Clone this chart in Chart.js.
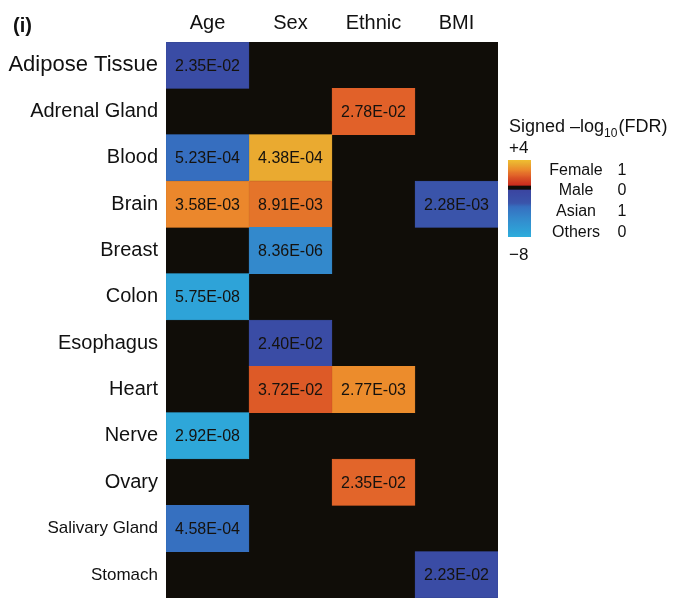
<!DOCTYPE html>
<html>
<head>
<meta charset="utf-8">
<script src="https://cdn.jsdelivr.net/npm/chart.js@4/dist/chart.umd.min.js"></script>
<style>
  html, body { margin: 0; padding: 0; background: #ffffff; }
  #wrap { position: relative; width: 688px; height: 598px; }
</style>
</head>
<body>
<div id="wrap"><canvas id="c"></canvas></div>
<script>
// ---------------- DATA ----------------
const tissues = ['Adipose Tissue', 'Adrenal Gland', 'Blood', 'Brain', 'Breast', 'Colon',
                 'Esophagus', 'Heart', 'Nerve', 'Ovary', 'Salivary Gland', 'Stomach'];
const columns = ['Age', 'Sex', 'Ethnic', 'BMI'];

// FDR values shown in the cells (null = empty/black cell)
const fdrAge    = [2.35e-2, null, 5.23e-4, 3.58e-3, null, 5.75e-8, null, null, 2.92e-8, null, 4.58e-4, null];
const fdrSex    = [null, null, 4.38e-4, 8.91e-3, 8.36e-6, null, 2.40e-2, 3.72e-2, null, null, null, null];
const fdrEthnic = [null, 2.78e-2, null, null, null, null, null, 2.77e-3, null, 2.35e-2, null, null];
const fdrBMI    = [null, null, null, 2.28e-3, null, null, null, null, null, null, null, 2.23e-2];

// direction of effect (+1 = warm / positive, -1 = cool / negative)
const dirAge    = [-1, 0, -1, 1, 0, -1, 0, 0, -1, 0, -1, 0];
const dirSex    = [0, 0, 1, 1, -1, 0, -1, 1, 0, 0, 0, 0];
const dirEthnic = [0, 1, 0, 0, 0, 0, 0, 1, 0, 1, 0, 0];
const dirBMI    = [0, 0, 0, -1, 0, 0, 0, 0, 0, 0, 0, -1];

// colour-bar range and legend entries
const scaleMax = 4, scaleMin = -8;
const legendNames = ['Female', 'Male', 'Asian', 'Others'];
const legendCodes = ['1', '0', '1', '0'];

// ---------------- STYLE ----------------
const FONT = "'Liberation Sans', Arial, Helvetica, sans-serif";
const labelSizes = [22, 20, 20, 20, 20, 20, 20, 20, 20, 20, 17, 17];
const posStops = [[0, [200, 40, 30]], [1.4, [220, 88, 38]], [1.6, [226, 100, 42]], [2.05, [228, 116, 42]],
                  [2.5, [236, 138, 44]], [3.4, [234, 172, 48]], [4, [240, 190, 48]]];
const negStops = [[0, [59, 64, 158]], [2.7, [58, 84, 170]], [3.3, [54, 111, 192]], [5.1, [51, 137, 204]],
                  [7.3, [46, 164, 216]], [8, [46, 174, 220]]];

function interp(stops, v) {
  if (v <= stops[0][0]) return stops[0][1];
  for (let i = 1; i < stops.length; i++) {
    if (v <= stops[i][0]) {
      const [a, ca] = stops[i - 1], [b, cb] = stops[i];
      const t = (v - a) / (b - a);
      return ca.map((c, k) => Math.round(c + (cb[k] - c) * t));
    }
  }
  return stops[stops.length - 1][1];
}
function colorFor(signed) {
  const c = signed >= 0 ? interp(posStops, signed) : interp(negStops, -signed);
  return `rgb(${c[0]},${c[1]},${c[2]})`;
}

const fdrCols = [fdrAge, fdrSex, fdrEthnic, fdrBMI];
const dirCols = [dirAge, dirSex, dirEthnic, dirBMI];

const datasets = columns.map((name, ci) => {
  const fdr = fdrCols[ci], dir = dirCols[ci];
  const cols = fdr.map((v, ri) => v === null ? 'rgba(0,0,0,0)' : colorFor(dir[ri] * -Math.log10(v)));
  return {
    label: name,
    data: fdr.map(v => v === null ? null : [ci, ci + 1]),
    backgroundColor: cols,
    borderColor: cols,
    borderWidth: 0.5,
    borderSkipped: false,
    fdrText: fdr.map(v => v === null ? '' : v.toExponential(2).toUpperCase().replace(/E([+-])(\d)$/, 'E$10$2')),
    barPercentage: 1,
    categoryPercentage: 1,
    grouped: false
  };
});

const bgPlugin = {
  id: 'bg',
  beforeDatasetsDraw(chart) {
    const { ctx, chartArea: a } = chart;
    ctx.save();
    ctx.fillStyle = '#100d08';
    ctx.fillRect(a.left, a.top, a.right - a.left, a.bottom - a.top);
    ctx.restore();
  }
};

const cellText = {
  id: 'cellText',
  afterDatasetsDraw(chart) {
    const ctx = chart.ctx;
    ctx.save();
    ctx.font = `16px ${FONT}`;
    ctx.fillStyle = '#15120e';
    ctx.textAlign = 'center';
    ctx.textBaseline = 'middle';
    chart.data.datasets.forEach((ds, di) => {
      const meta = chart.getDatasetMeta(di);
      meta.data.forEach((el, i) => {
        if (!ds.fdrText[i]) return;
        const p = el.getProps(['x', 'y', 'base'], true);
        ctx.fillText(ds.fdrText[i], (p.x + p.base) / 2, p.y + 1);
      });
    });
    ctx.restore();
  }
};

const extras = {
  id: 'extras',
  afterDraw(chart) {
    const ctx = chart.ctx;
    ctx.save();
    ctx.fillStyle = '#111';
    ctx.textBaseline = 'alphabetic';
    // panel tag
    ctx.font = `bold 20px ${FONT}`;
    ctx.textAlign = 'left';
    ctx.fillText('(i)', 13, 32);

    // legend title
    const x0 = 509;
    ctx.font = `18px ${FONT}`;
    let t = 'Signed \u2013log';
    ctx.fillText(t, x0, 132);
    let w = ctx.measureText(t).width;
    ctx.font = `12px ${FONT}`;
    ctx.fillText('10', x0 + w, 137);
    w += ctx.measureText('10').width;
    ctx.font = `18px ${FONT}`;
    ctx.fillText('(FDR)', x0 + w + 1, 132);

    // range labels
    ctx.font = `17px ${FONT}`;
    ctx.textBaseline = 'middle';
    ctx.fillText('+' + scaleMax, x0, 148);
    ctx.fillText('\u2212' + Math.abs(scaleMin), x0, 255);

    // colour bar
    const bx = 508, bw = 23, by = 160, bh = 77;
    const span = scaleMax - scaleMin;
    const g = ctx.createLinearGradient(0, by, 0, by + bh);
    for (let k = 0; k <= 48; k++) {
      const v = scaleMax - span * k / 48;
      g.addColorStop(k / 48, colorFor(v));
    }
    ctx.fillStyle = g;
    ctx.fillRect(bx, by, bw, bh);
    const zeroY = by + bh * scaleMax / span;
    ctx.fillStyle = '#100d08';
    ctx.fillRect(bx, zeroY, bw, 4);

    // legend entries
    ctx.fillStyle = '#111';
    ctx.font = `16px ${FONT}`;
    const ys = [171, 191, 212, 233];
    legendNames.forEach((n, i) => {
      ctx.textAlign = 'center';
      ctx.fillText(n, 576, ys[i]);
      ctx.fillText(legendCodes[i], 622, ys[i]);
    });
    ctx.restore();
  }
};

new Chart(document.getElementById('c'), {
  type: 'bar',
  data: { labels: tissues, datasets },
  options: {
    indexAxis: 'y',
    responsive: true,
    maintainAspectRatio: false,
    animation: false,
    layout: { padding: { left: 0, right: 190, top: 0, bottom: 0 } },
    plugins: { legend: { display: false }, tooltip: { enabled: false } },
    scales: {
      x: {
        type: 'linear',
        position: 'top',
        min: 0,
        max: columns.length,
        grid: { display: false, drawTicks: false },
        border: { display: false },
        afterBuildTicks(scale) {
          scale.ticks = columns.map((c, i) => ({ value: i + 0.5 }));
        },
        afterFit(scale) {
          scale.height = 42;
          scale.paddingLeft = 0; scale.paddingRight = 0;
        },
        ticks: {
          autoSkip: false,
          maxRotation: 0,
          padding: 7,
          color: '#111',
          font: { family: FONT, size: 20 },
          callback: (v) => columns[Math.floor(v)]
        }
      },
      y: {
        type: 'category',
        grid: { display: false, drawTicks: false },
        border: { display: false },
        afterFit(scale) {
          scale.width = 166;
          scale.paddingTop = 0; scale.paddingBottom = 0;
        },
        ticks: {
          autoSkip: false,
          padding: 8,
          color: '#111',
          font: (ctx) => ({ family: FONT, size: labelSizes[ctx.index] || 20 })
        }
      }
    }
  },
  plugins: [bgPlugin, cellText, extras]
});
</script>
</body>
</html>
